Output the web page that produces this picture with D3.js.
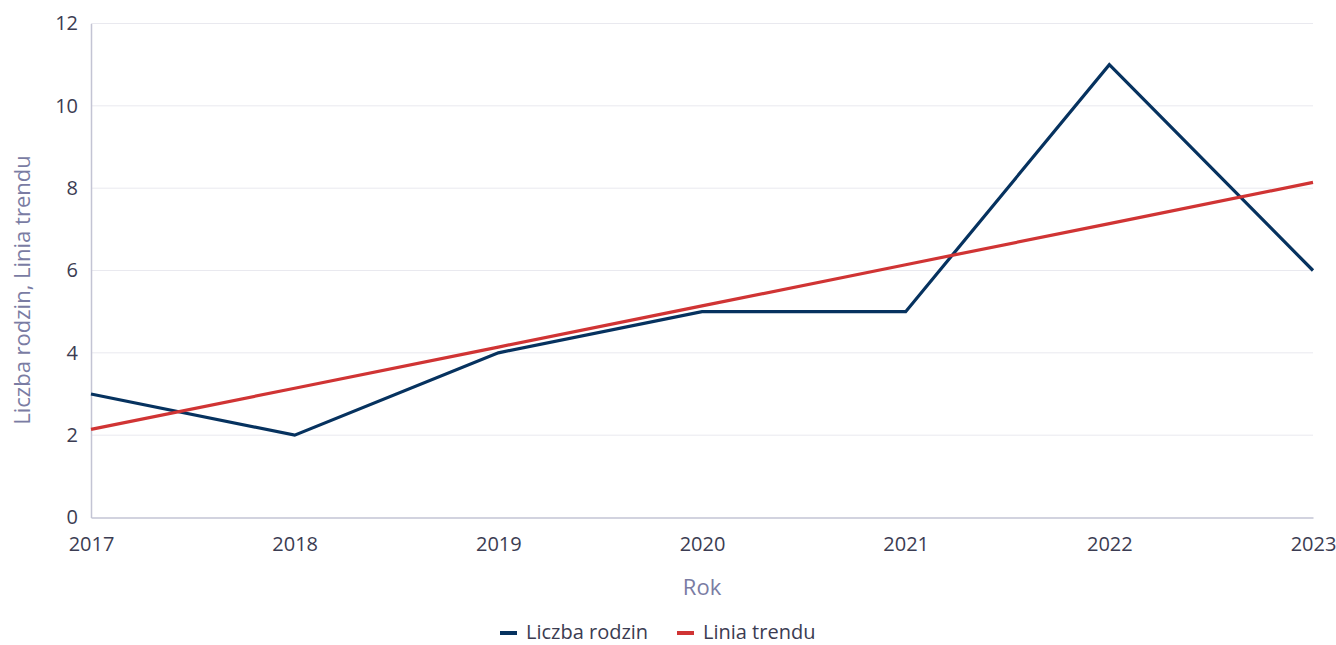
<!DOCTYPE html>
<html>
<head>
<meta charset="utf-8">
<script src="https://cdn.jsdelivr.net/npm/d3@7"></script>
<style>
  html, body { margin: 0; padding: 0; background: #fff; }
  svg text { font-family: "Open Sans", "Noto Sans", sans-serif; }
</style>
</head>
<body>
<div id="chart"></div>
<script>
const years   = [2017, 2018, 2019, 2020, 2021, 2022, 2023];
const rodziny = [3, 2, 4, 5, 5, 11, 6];
const trend   = [2.14, 3.14, 4.14, 5.14, 6.14, 7.14, 8.14];
const yTicks  = [0, 2, 4, 6, 8, 10, 12];
const seriesNames = ['Liczba rodzin', 'Linia trendu'];
const seriesColors = ['#06325f', '#d03434'];

const W = 1336, H = 645;
const M = { left: 91, right: 23, top: 23.5, bottom: 127.5 };

const svg = d3.select('#chart').append('svg')
    .attr('width', W).attr('height', H);

const x = d3.scaleLinear().domain([2017, 2023]).range([M.left, W - M.right]);
const y = d3.scaleLinear().domain([0, 12]).range([H - M.bottom, M.top]);

/* grid */
svg.append('g').selectAll('line').data(yTicks.filter(d => d > 0)).join('line')
    .attr('x1', M.left).attr('x2', W - M.right)
    .attr('y1', d => y(d)).attr('y2', d => y(d))
    .attr('stroke', '#e9e9ef').attr('stroke-width', 1);

/* axes */
const yAxis = svg.append('g').attr('transform', `translate(${M.left},0)`)
    .call(d3.axisLeft(y).tickValues(yTicks).tickSize(0).tickPadding(13));
yAxis.select('.domain').attr('stroke', '#c3c4d4').attr('stroke-width', 1.5);
yAxis.selectAll('text').attr('font-size', 20).attr('fill', '#3b3c52');

const xAxis = svg.append('g').attr('transform', `translate(0,${y(0)})`)
    .call(d3.axisBottom(x).tickValues(years).tickFormat(d3.format('d')).tickSize(0).tickPadding(19));
xAxis.select('.domain').attr('stroke', '#c3c4d4').attr('stroke-width', 1.5);
xAxis.selectAll('text').attr('font-size', 20).attr('fill', '#3b3c52');

/* axis titles */
svg.append('text')
    .attr('x', (M.left + W - M.right) / 2).attr('y', 595)
    .attr('text-anchor', 'middle').attr('font-size', 22).attr('fill', '#7a7ca3')
    .text('Rok');
svg.append('text')
    .attr('transform', `translate(30,290) rotate(-90)`)
    .attr('text-anchor', 'middle').attr('font-size', 22).attr('fill', '#7a7ca3')
    .text('Liczba rodzin, Linia trendu');

/* lines */
const line = d3.line().x((d, i) => x(years[i])).y(d => y(d));
[rodziny, trend].forEach((s, i) => {
    svg.append('path').datum(s)
        .attr('d', line)
        .attr('fill', 'none')
        .attr('stroke', seriesColors[i])
        .attr('stroke-width', 3.2)
        .attr('stroke-linejoin', 'miter');
});

/* legend */
const legX = [500, 677];
const leg = svg.append('g');
seriesNames.forEach((n, i) => {
    leg.append('line')
        .attr('x1', legX[i]).attr('x2', legX[i] + 17)
        .attr('y1', 633).attr('y2', 633)
        .attr('stroke', seriesColors[i]).attr('stroke-width', 4);
    leg.append('text')
        .attr('x', legX[i] + 26).attr('y', 632)
        .attr('dy', '0.33em')
        .attr('font-size', 20).attr('fill', '#3b3c52')
        .text(n);
});
</script>
</body>
</html>
